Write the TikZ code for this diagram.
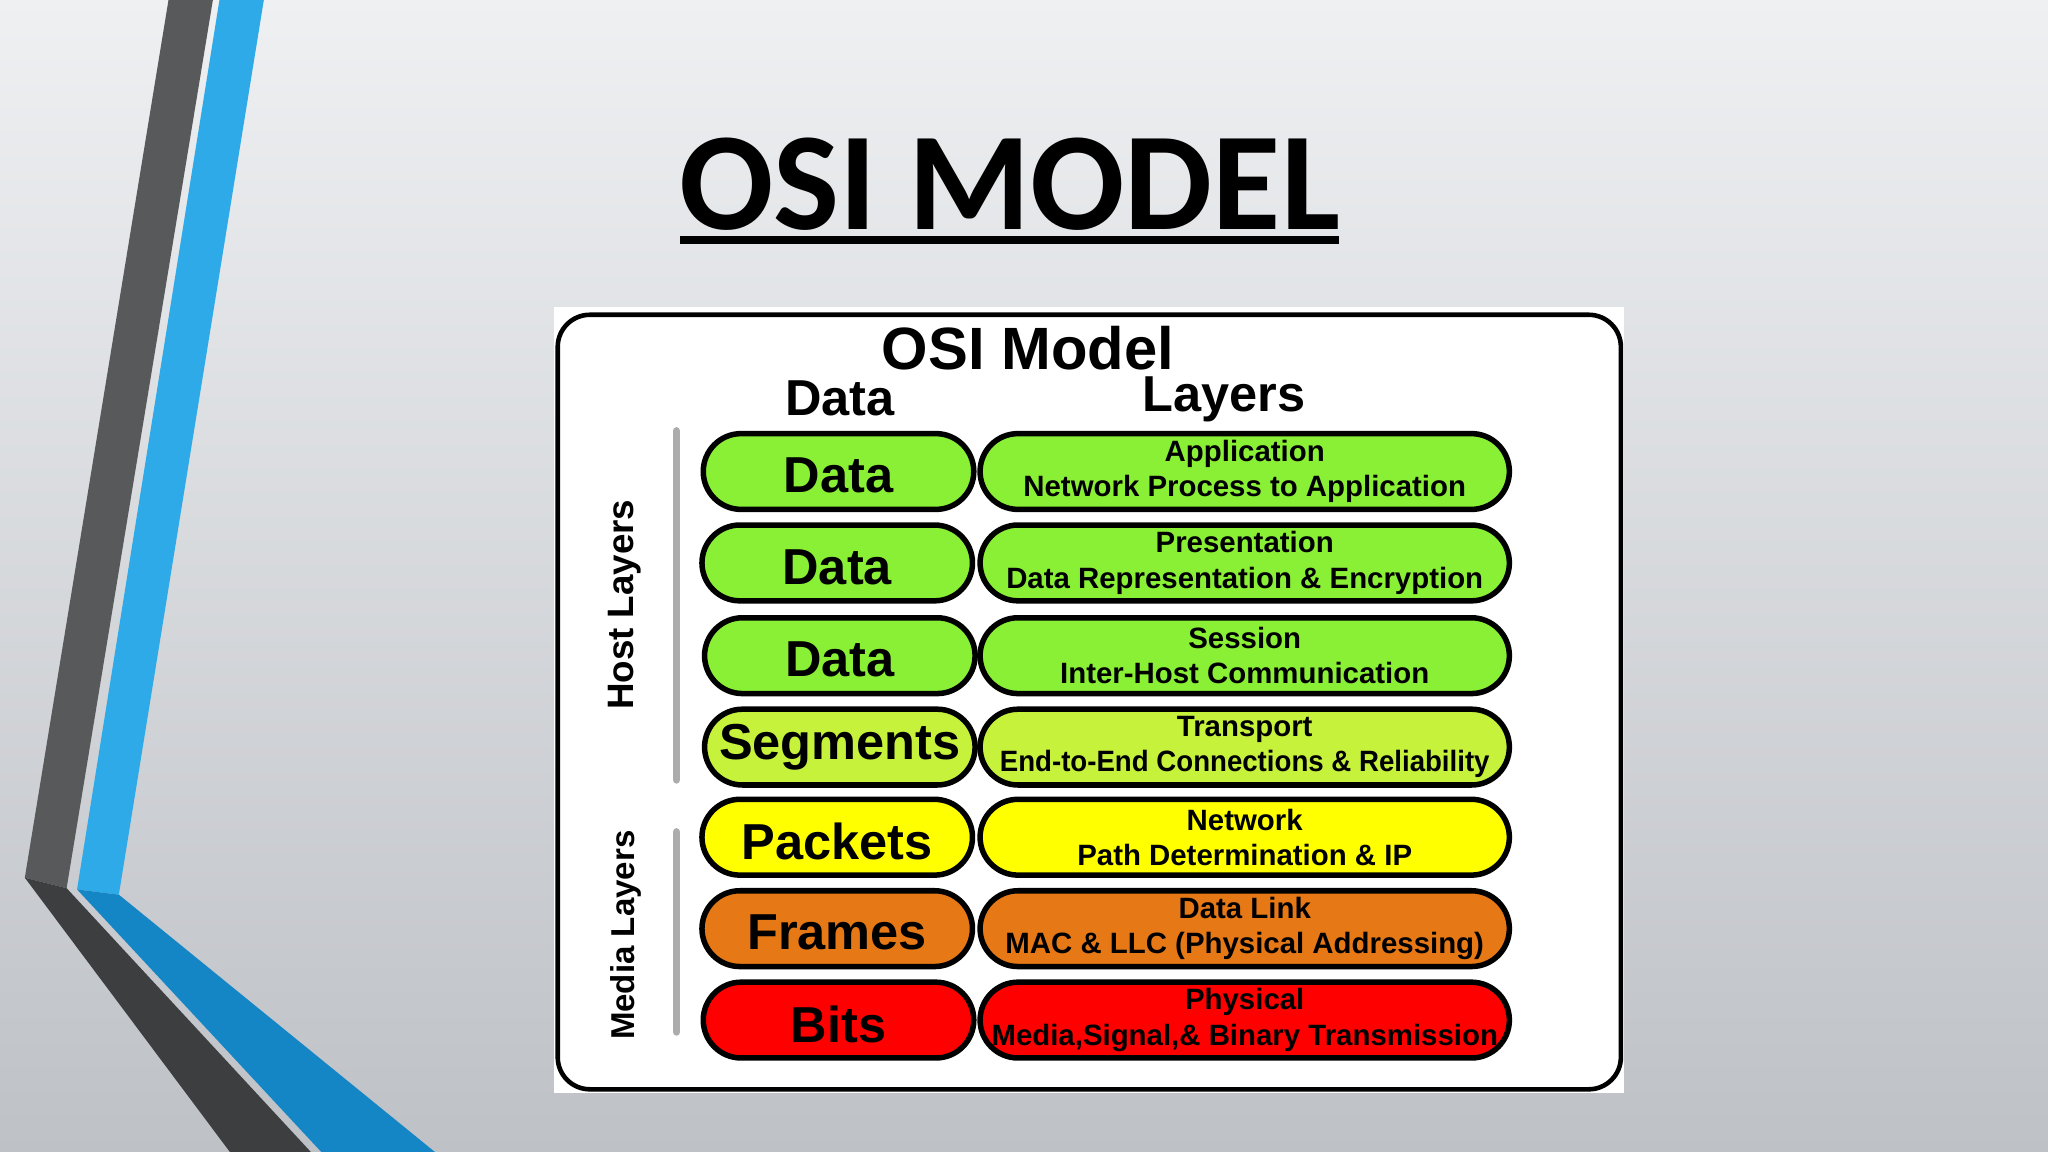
\documentclass[tikz,border=0pt]{standalone}
\usepackage{fontspec}
\setmainfont{Liberation Sans}
\newfontfamily\titlefont{Carlito}

\definecolor{bgtop}{RGB}{238,240,242}
\definecolor{bgbottom}{RGB}{190,193,198}
\definecolor{stripedark}{RGB}{88,89,91}
\definecolor{stripedarker}{RGB}{60,62,64}
\definecolor{stripeblue}{RGB}{46,170,232}
\definecolor{stripebluedark}{RGB}{20,134,198}
\definecolor{hostgreen}{RGB}{138,240,54}
\definecolor{transgreen}{RGB}{198,242,60}
\definecolor{netyellow}{RGB}{255,255,0}
\definecolor{linkorange}{RGB}{230,120,22}
\definecolor{physred}{RGB}{255,0,0}
\definecolor{bargrey}{RGB}{172,172,172}

\newcommand{\pilltext}[1]{\raisebox{-0.9pt}[\height][\depth]{#1}}

\tikzset{
  datapill/.style={rectangle, rounded corners=0.29cm, draw=black, line width=1.2pt, minimum width=2.07cm, minimum height=0.58cm, inner sep=0pt, font=\bfseries\fontsize{11}{12}\selectfont},
  layerpill/.style={rectangle, rounded corners=0.29cm, draw=black, line width=1.2pt, minimum width=4.05cm, minimum height=0.58cm, inner sep=0pt, align=center, font=\bfseries\fontsize{6.4}{7.7}\selectfont},
  sidelabel/.style={rotate=90, font=\bfseries},
  sidebar/.style={bargrey, line width=1.7pt, line cap=round}
}

\begin{document}
\begin{tikzpicture}[x=0.01cm, y=-0.01cm]
    \shade[top color=bgtop, bottom color=bgbottom] (0,0) rectangle (1568,882);
    \useasboundingbox (0,0) rectangle (1568,882);
    \fill[stripedark] (129,0) -- (163,0) -- (51,680) -- (19,672) -- cycle;
    \fill[stripedarker] (19,672) -- (51,680) -- (238,882) -- (176,882) -- cycle;
    \fill[stripeblue] (168,0) -- (202,0) -- (91,685) -- (59,681) -- cycle;
    \fill[stripebluedark] (59,681) -- (91,685) -- (333,882) -- (246,882) -- cycle;

    \node[anchor=base] (title) at (773,176) {\titlefont\bfseries\fontsize{30.4}{36}\selectfont OSI MODEL};
    \draw[line width=1.7pt] (521,184) -- (1025,184);

    \fill[white] (424,235) rectangle (1243,837);
    \draw[line width=1pt, rounded corners=7pt] (427,241) rectangle (1241,834);

    \node[anchor=base, font=\bfseries\fontsize{13}{15}\selectfont] (modelhead) at (787,283) {OSI Model};
    \node[anchor=base, font=\bfseries\fontsize{11}{13}\selectfont] (datahead) at (643,318) {Data};
    \node[anchor=base, font=\bfseries\fontsize{11}{13}\selectfont] (layerhead) at (937,315) {Layers};

    \node[sidelabel, font=\bfseries\fontsize{8}{9}\selectfont] (hostlabel) at (478,463) {Host Layers};
    \node[sidelabel, font=\bfseries\fontsize{7.2}{8}\selectfont] (medialabel) at (479,716) {Media Layers};
    \draw[sidebar] (518,330) -- (518,597);
    \draw[sidebar] (518,637) -- (518,790);

    \node[datapill, fill=hostgreen] (data7) at (642,361) {\pilltext{Data}};
    \node[layerpill, fill=hostgreen] (application) at (953,361) {Application\\Network Process to Application};
    \node[datapill, fill=hostgreen] (data6) at (641,431) {\pilltext{Data}};
    \node[layerpill, fill=hostgreen] (presentation) at (953,431) {Presentation\\Data Representation \& Encryption};
    \node[datapill, fill=hostgreen] (data5) at (643,502) {\pilltext{Data}};
    \node[layerpill, fill=hostgreen] (session) at (953,502) {Session\\Inter-Host Communication};
    \node[datapill, fill=transgreen] (segments) at (643,572) {Segments};
    \node[layerpill, fill=transgreen] (transport) at (953,572) {Transport\\\scalebox{0.94}[1]{End-to-End Connections \& Reliability}};
    \node[datapill, fill=netyellow] (packets) at (641,641) {\pilltext{Packets}};
    \node[layerpill, fill=netyellow] (network) at (953,641) {Network\\Path Determination \& IP};
    \node[datapill, fill=linkorange] (frames) at (641,711) {\pilltext{Frames}};
    \node[layerpill, fill=linkorange] (datalink) at (953,711) {Data Link\\MAC \& LLC (Physical Addressing)};
    \node[datapill, fill=physred] (bits) at (642,781) {\pilltext{Bits}};
    \node[layerpill, fill=physred] (physical) at (953,781) {Physical\\Media,Signal,\& Binary Transmission};
  \end{tikzpicture}
\end{document}
